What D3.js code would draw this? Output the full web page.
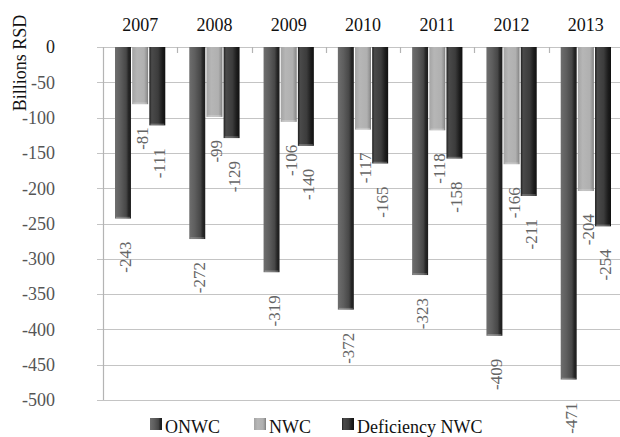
<!DOCTYPE html>
<html>
<head>
<meta charset="utf-8">
<script src="https://cdn.jsdelivr.net/npm/d3@7"></script>
<style>
  html, body { margin: 0; padding: 0; background: #fff; }
  svg { display: block; }
</style>
</head>
<body>
<svg id="chart" width="620" height="437"></svg>
<script>
// Working capital figures, billions of RSD
const years = ["2007", "2008", "2009", "2010", "2011", "2012", "2013"];
const seriesNames = ["ONWC", "NWC", "Deficiency NWC"];
const onwc = [-243, -272, -319, -372, -323, -409, -471];
const nwc = [-81, -99, -106, -117, -118, -166, -204];
const deficiency = [-111, -129, -140, -165, -158, -211, -254];
const yTicks = [0, -50, -100, -150, -200, -250, -300, -350, -400, -450, -500];

const seriesValues = [onwc, nwc, deficiency];

const FONT = "'Liberation Serif', 'DejaVu Serif', serif";

const svg = d3.select("#chart").attr("font-family", FONT);
const W = 620, H = 437;
const plotLeft = 103, plotRight = 623, plotTop = 47, plotBottom = 400;

const x = d3.scaleBand().domain(years).range([plotLeft, plotRight]).padding(0);
const inner = d3.scaleBand().domain(seriesNames)
  .range([12, x.bandwidth() - 12]).paddingInner(0.07);
const y = d3.scaleLinear().domain([-500, 0]).range([plotBottom, plotTop]);

// Cylinder-like horizontal gradients for each series
const defs = svg.append("defs");
const gradStops = {
  "ONWC": [[0, "#6e6e6e"], [0.35, "#5e5e5e"], [0.7, "#474747"], [0.85, "#262626"], [1, "#1c1c1c"]],
  "NWC": [[0, "#a4a4a4"], [0.3, "#b6b6b6"], [0.75, "#b0b0b0"], [0.92, "#939393"], [1, "#7a7a7a"]],
  "Deficiency NWC": [[0, "#1e1e1e"], [0.15, "#4a4a4a"], [0.55, "#3c3c3c"], [0.82, "#1c1c1c"], [1, "#101010"]]
};
seriesNames.forEach((s, i) => {
  const g = defs.append("linearGradient").attr("id", "grad" + i)
    .attr("x1", "0%").attr("x2", "100%").attr("y1", "0%").attr("y2", "0%");
  gradStops[s].forEach(([o, c]) => g.append("stop").attr("offset", o).attr("stop-color", c));
});

// Horizontal gridlines
svg.append("g").selectAll("line").data(yTicks).join("line")
  .attr("x1", plotLeft - 6).attr("x2", W)
  .attr("y1", d => Math.round(y(d)) + 0.5).attr("y2", d => Math.round(y(d)) + 0.5)
  .attr("stroke", "#c4c4c4").attr("stroke-width", 1.2);

// Vertical axis line
svg.append("line")
  .attr("x1", plotLeft + 0.5).attr("x2", plotLeft + 0.5)
  .attr("y1", plotTop).attr("y2", plotBottom)
  .attr("stroke", "#b4b4b4").attr("stroke-width", 1.2);

// Category tick marks hanging from the zero line
svg.append("g").selectAll("line").data(years.slice(1)).join("line")
  .attr("x1", d => Math.round(x(d)) + 0.5).attr("x2", d => Math.round(x(d)) + 0.5)
  .attr("y1", y(0)).attr("y2", y(0) + 6)
  .attr("stroke", "#b4b4b4").attr("stroke-width", 1.2);

// Y tick labels
svg.append("g").selectAll("text").data(yTicks).join("text")
  .attr("x", 55).attr("y", d => y(d))
  .attr("dy", "0.35em")
  .attr("text-anchor", "end")
  .attr("font-size", 18)
  .attr("fill", d => d === 0 ? "#222" : "#555")
  .text(d => d);

// Year labels above the plot
svg.append("g").selectAll("text").data(years).join("text")
  .attr("x", d => x(d) + x.bandwidth() / 2).attr("y", 31)
  .attr("text-anchor", "middle")
  .attr("font-size", 18)
  .attr("fill", "#111")
  .text(d => d);

// Axis title
svg.append("text")
  .attr("transform", "translate(26,63) rotate(-90)")
  .attr("text-anchor", "middle")
  .attr("font-size", 18)
  .attr("fill", "#111")
  .text("Billions RSD");

// Bars
const barData = [];
years.forEach((yr, i) => seriesNames.forEach((s, j) =>
  barData.push({ year: yr, series: s, idx: j, value: seriesValues[j][i] })));

const bars = svg.append("g");
bars.selectAll("rect").data(barData).join("rect")
  .attr("x", d => x(d.year) + inner(d.series))
  .attr("y", y(0))
  .attr("width", inner.bandwidth())
  .attr("height", d => y(d.value) - y(0))
  .attr("fill", d => `url(#grad${d.idx})`);

// Light cap at the end of each bar
bars.selectAll("line.cap").data(barData).join("line")
  .attr("class", "cap")
  .attr("x1", d => x(d.year) + inner(d.series) + 1)
  .attr("x2", d => x(d.year) + inner(d.series) + inner.bandwidth() - 1)
  .attr("y1", d => y(d.value) - 1).attr("y2", d => y(d.value) - 1)
  .attr("stroke", "rgba(255,255,255,0.25)").attr("stroke-width", 1.5);

// Value labels under each bar, rotated
svg.append("g").selectAll("text").data(barData).join("text")
  .attr("transform", d => {
    const cx = x(d.year) + inner(d.series) + inner.bandwidth() / 2 + 2;
    return `translate(${cx},${y(d.value) + 23}) rotate(-90)`;
  })
  .attr("dy", "0.35em")
  .attr("text-anchor", "end")
  .attr("font-size", 17)
  .attr("fill", "#666")
  .text(d => d.value);

// Legend
const legendItems = [
  { name: "ONWC", mx: 150 },
  { name: "NWC", mx: 254 },
  { name: "Deficiency NWC", mx: 342 }
];
const lg = svg.append("g");
legendItems.forEach((it, i) => {
  lg.append("rect")
    .attr("x", it.mx).attr("y", 418)
    .attr("width", 12).attr("height", 12)
    .attr("fill", `url(#grad${i})`);
  lg.append("text")
    .attr("x", it.mx + 15).attr("y", 433)
    .attr("font-size", 18)
    .attr("fill", "#111")
    .text(it.name);
});
</script>
</body>
</html>
